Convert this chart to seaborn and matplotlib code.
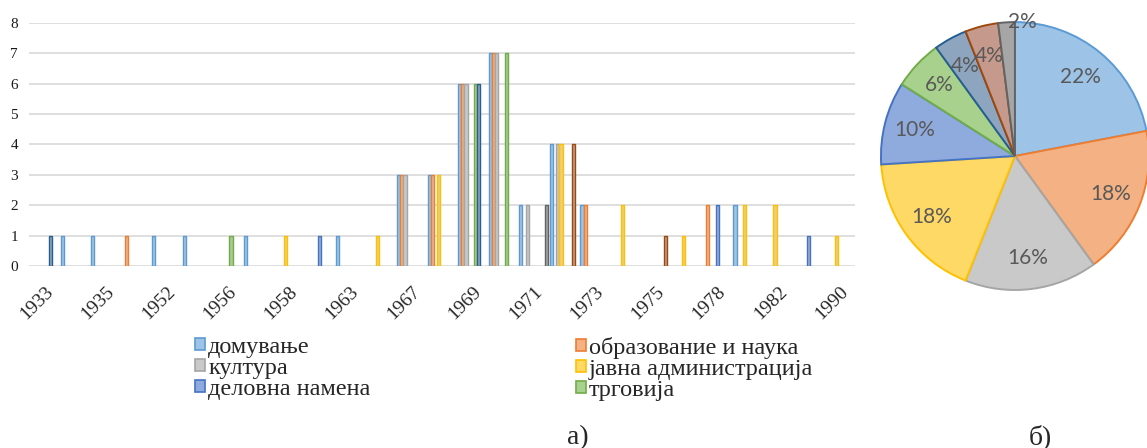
import numpy as np
import pandas as pd
import matplotlib
matplotlib.use("Agg")
import matplotlib.pyplot as plt
import seaborn as sns

sns.set_theme(style="white")
plt.rcParams['font.family'] = ['Liberation Serif', 'DejaVu Serif']

# категории (години) - само секоја втора е означена на оската
years = ['1933', '1934', '1935', '1950', '1952', '1955', '1956', '1957', '1958', '1960',
         '1963', '1965', '1967', '1968', '1969', '1970', '1971', '1972', '1973', '1974',
         '1975', '1977', '1978', '1980', '1982', '1985', '1990']

series = ['домување', 'образование и наука', 'култура', 'јавна администрација',
          'деловна намена', 'трговија', 'индустрија', 'здравство', 'друго']

# вредности по серија (број на објекти по година)
domuvanje   = [0, 1, 1, 0, 1, 1, 0, 1, 0, 0, 1, 0, 3, 3, 6, 7, 2, 4, 2, 0, 0, 0, 0, 2, 0, 0, 0]
obrazovanie = [0, 0, 0, 1, 0, 0, 0, 0, 0, 0, 0, 0, 3, 3, 6, 7, 0, 0, 2, 0, 0, 0, 2, 0, 0, 0, 0]
kultura     = [0, 0, 0, 0, 0, 0, 0, 0, 0, 0, 0, 0, 3, 0, 6, 7, 2, 4, 0, 0, 0, 0, 0, 0, 0, 0, 0]
javna       = [0, 0, 0, 0, 0, 0, 0, 0, 1, 0, 0, 1, 0, 3, 0, 0, 0, 4, 0, 2, 0, 1, 0, 2, 2, 0, 1]
delovna     = [0, 0, 0, 0, 0, 0, 0, 0, 0, 1, 0, 0, 0, 0, 0, 0, 0, 0, 0, 0, 0, 0, 2, 0, 0, 1, 0]
trgovija    = [0, 0, 0, 0, 0, 0, 1, 0, 0, 0, 0, 0, 0, 0, 6, 7, 0, 0, 0, 0, 0, 0, 0, 0, 0, 0, 0]
industrija  = [1, 0, 0, 0, 0, 0, 0, 0, 0, 0, 0, 0, 0, 0, 6, 0, 0, 0, 0, 0, 0, 0, 0, 0, 0, 0, 0]
zdravstvo   = [0, 0, 0, 0, 0, 0, 0, 0, 0, 0, 0, 0, 0, 0, 0, 0, 0, 4, 0, 0, 1, 0, 0, 0, 0, 0, 0]
drugo       = [0, 0, 0, 0, 0, 0, 0, 0, 0, 0, 0, 0, 0, 0, 0, 0, 2, 0, 0, 0, 0, 0, 0, 0, 0, 0, 0]

# удел по намена (пита)
pie_pct = [22, 18, 16, 18, 10, 6, 4, 4, 2]

edge_colors = ['#5B9BD5', '#ED7D31', '#A5A5A5', '#FFC000', '#4472C4',
               '#70AD47', '#255E91', '#9E480E', '#636363']
fill_colors = ['#9DC3E6', '#F4B183', '#C9C9C9', '#FFD966', '#8FAADC',
               '#A9D18E', '#8EA5BF', '#C59A8C', '#A6A6A6']

values = [domuvanje, obrazovanie, kultura, javna, delovna, trgovija, industrija, zdravstvo, drugo]
rows = []
for s, vals in zip(series, values):
    for y, v in zip(years, vals):
        if v > 0:
            rows.append({'year': y, 'namena': s, 'count': v})
df = pd.DataFrame(rows)

fig = plt.figure(figsize=(11.47, 4.48), dpi=100)
ax = fig.add_axes([0.0253, 0.406, 0.7199, 0.543])

sns.barplot(data=df, x='year', y='count', hue='namena', order=years, hue_order=series,
            palette=fill_colors, width=0.94, dodge=True, ax=ax, legend=False, errorbar=None)

for cont, ec in zip(ax.containers, edge_colors):
    for bar in cont:
        bar.set_edgecolor(ec)
        bar.set_linewidth(1.0)

ax.set_ylim(0, 8)
ax.set_xlim(-0.5, len(years) - 0.5)
ax.set_yticks(range(0, 9))
ax.yaxis.grid(True, color='#D9D9D9', linewidth=1.2)
ax.set_axisbelow(True)
for sp in ax.spines.values():
    sp.set_visible(False)
ax.set_xlabel('')
ax.set_ylabel('')
ax.tick_params(axis='y', labelsize=11, pad=8, length=0, labelcolor='#1a1a1a')
ax.set_xticks(range(len(years)))
ax.set_xticklabels([y if i % 2 == 0 else '' for i, y in enumerate(years)],
                   rotation=45, ha='right', rotation_mode='anchor', fontsize=14, color='#262626')
ax.tick_params(axis='x', length=0, pad=12)

# легенда (само првите шест серии се видливи), ред по ред во две колони
leg_kw = dict(loc='upper left', frameon=False, fontsize=17.5, handlelength=0.4, handleheight=0.4,
              handletextpad=0.15, labelspacing=0.0, borderaxespad=0, borderpad=0)
for col, x0 in zip([(0, 2, 4), (1, 3, 5)], [0.170, 0.502]):
    handles = [plt.Rectangle((0, 0), 1, 1, facecolor=fill_colors[i], edgecolor=edge_colors[i], linewidth=1.2)
               for i in col]
    fig.legend(handles, [series[i] for i in col], bbox_to_anchor=(x0, 0.248), **leg_kw)

fig.text(0.504, 0.024, 'а)', fontsize=20, ha='center', va='center')
fig.text(0.907, 0.024, 'б)', fontsize=20, ha='center', va='center')

# пита
pax = fig.add_axes([0.768, 0.3527, 0.2337, 0.598])
wedges, texts, autotexts = pax.pie(pie_pct, colors=fill_colors, startangle=90, counterclock=False,
                                   autopct='%d%%', pctdistance=0.77,
                                   wedgeprops=dict(linewidth=1.4),
                                   textprops=dict(fontsize=15, color='#595959', family=['Lato', 'DejaVu Sans']))
for w, ec in zip(wedges, edge_colors):
    w.set_edgecolor(ec)
    w.set_clip_on(False)
ang = np.deg2rad((wedges[-1].theta1 + wedges[-1].theta2) / 2)
autotexts[-1].set_position((np.cos(ang) + 0.12, 1.0 * np.sin(ang)))
pax.set_xlim(-1, 1)
pax.set_ylim(-1, 1)
pax.set_aspect('equal')

fig.savefig('out.png', dpi=100)
